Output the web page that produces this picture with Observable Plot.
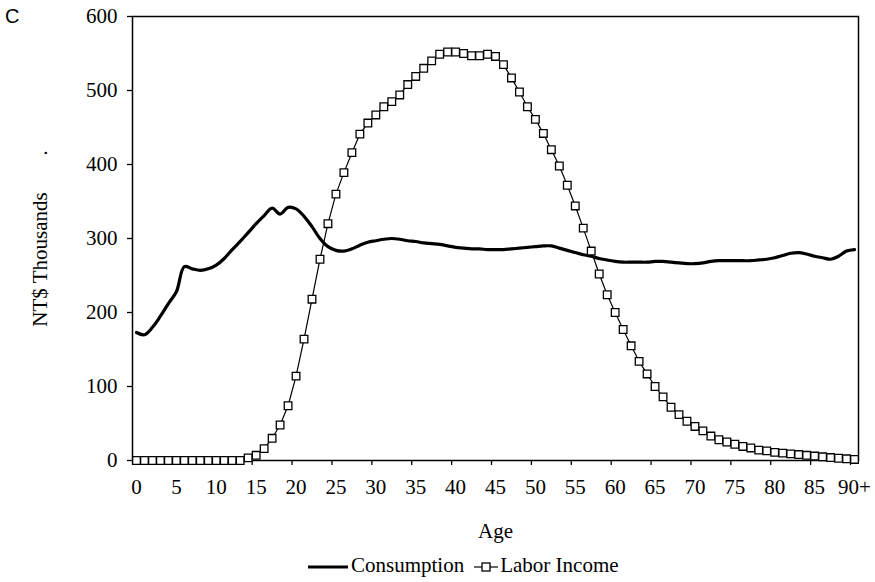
<!DOCTYPE html>
<html><head><meta charset="utf-8">
<script src="https://cdn.jsdelivr.net/npm/d3@7"></script>
<script src="https://cdn.jsdelivr.net/npm/@observablehq/plot@0.6"></script>
<style>
body{margin:0;background:#fff;}
#wrap{position:relative;width:875px;height:582px;font-family:"Liberation Serif","Times New Roman",serif;color:#000;}
#tag{position:absolute;left:5px;top:6px;font-family:"Liberation Sans",Arial,sans-serif;font-size:20px;line-height:20px;}
#chart{position:absolute;left:0;top:0;}
#chart svg text{font-family:"Liberation Serif","Times New Roman",serif;}
#legend{position:absolute;left:308px;top:553px;display:flex;align-items:center;font-size:21px;line-height:24px;white-space:nowrap;}
#legend svg{display:block;}
</style></head><body>
<div id="wrap"><div id="chart"></div><div id="tag">C</div><div id="legend"></div></div>
<script>
const ages = d3.range(0, 91);
const consumption = [
  173,170,180,195,212,228,262,259,257,259,
  264,273,285,296,308,320,331,341,333,342,
  340,330,316,300,289,284,283,286,291,295,
  297,299,300,299,297,296,294,293,292,290,
  288,287,286,286,285,285,285,286,287,288,
  289,290,290,287,284,281,278,276,273,271,
  269,268,268,268,268,269,269,268,267,266,
  266,267,269,270,270,270,270,270,271,272,
  274,277,280,281,279,276,274,272,276,283,
  285
];
const laborIncome = [
  0,0,0,0,0,0,0,0,0,0,
  0,0,0,0,3.5,7,16,30,48,74,
  114,164,218,272,320,360,389,416,441,456,
  467,478,485,494,508,519,530,540,549,552,
  552,550,547,547,549,546,535,517,498,478,
  461,442,420,398,372,344,314,283,252,224,
  200,177,155,134,117,100,86,72,62,53,
  46,40,33,28,25,22,19,17,14,13,
  11,10,9,8,7,6,5,4,3,2.3,
  1.4
];
const xTickValues = [0,5,10,15,20,25,30,35,40,45,50,55,60,65,70,75,80,85,90];
const xTickLabels = ["0","5","10","15","20","25","30","35","40","45","50","55","60","65","70","75","80","85","90+"];
const yTicks = [0,100,200,300,400,500,600];
const seriesNames = ["Consumption","Labor Income"];

const data = ages.map((a, i) => ({age: a, consumption: consumption[i], labor: laborIncome[i]}));
const boundaryTicks = xTickValues.map(v => v - 0.5);
const serif = "'Liberation Serif','Times New Roman',serif";

const chart = Plot.plot({
  width: 875, height: 550,
  marginLeft: 132, marginRight: 17, marginTop: 16, marginBottom: 90,
  style: {fontFamily: serif, fontSize: "21px", color: "#000", background: "#fff", overflow: "visible"},
  x: {domain: [-0.5, 90.5]},
  y: {domain: [0, 600]},
  marks: [
    Plot.axisY({ticks: yTicks, tickSize: 5, tickPadding: 10, strokeWidth: 1.3, fontSize: 21, fontFamily: serif,
      label: "NT$ Thousands\u00a0\u00a0\u00a0\u00a0\u00a0\u00a0\u00a0.", labelAnchor: "center", labelOffset: 100, labelArrow: "none"}),
    Plot.axisX({ticks: boundaryTicks, tickSize: 5, tickFormat: () => "", label: null, strokeWidth: 1.3}),
    Plot.axisX({ticks: xTickValues, tickSize: 0, tickPadding: 19, fontSize: 21, fontFamily: serif,
      tickFormat: d => xTickLabels[xTickValues.indexOf(d)],
      label: "Age", labelAnchor: "center", labelOffset: 77, labelArrow: "none"}),
    Plot.frame({stroke: "#000", strokeWidth: 1.5}),
    Plot.line(data, {x: "age", y: "consumption", stroke: "#000", strokeWidth: 3.2, curve: "catmull-rom"}),
    Plot.line(data, {x: "age", y: "labor", stroke: "#000", strokeWidth: 1.2}),
    Plot.dot(data, {x: "age", y: "labor", symbol: "square", r: 4.3, fill: "#fff", stroke: "#000", strokeWidth: 1.3})
  ]
});
document.getElementById("chart").appendChild(chart);

document.getElementById("legend").innerHTML =
  `<svg width="40" height="24"><line x1="0" x2="40" y1="14" y2="14" stroke="#000" stroke-width="3.2"/></svg>` +
  `<span style="margin-left:3px">${seriesNames[0]}</span>` +
  `<svg width="24" height="24" style="margin-left:10px"><line x1="0" x2="24" y1="14" y2="14" stroke="#000" stroke-width="1.2"/><rect x="8" y="10" width="8" height="8" fill="#fff" stroke="#000" stroke-width="1.3"/></svg>` +
  `<span style="margin-left:2px">${seriesNames[1]}</span>`;
</script>
</body></html>
